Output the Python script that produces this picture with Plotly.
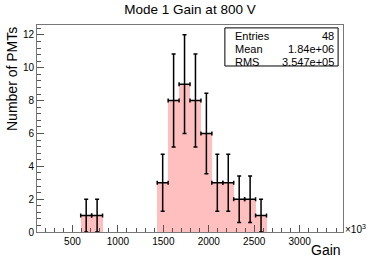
import plotly.graph_objects as go
import math

# histogram definition (x in units of 10^3)
x_min = 110.0
x_max = 3477.0
n_bins = 28
bin_index = [4, 5, 11, 12, 13, 14, 15, 16, 17, 18, 19, 20]
counts = [1, 1, 3, 8, 9, 8, 6, 3, 3, 2, 2, 1]
y_max = 12.6

stats_labels = ["Entries", "Mean", "RMS"]
stats_values = ["48", "1.84e+06", "3.547e+05"]

bw = (x_max - x_min) / n_bins
centers = [x_min + bw * (k + 0.5) for k in bin_index]
errs = [math.sqrt(c) for c in counts]

fig = go.Figure()
fig.add_trace(go.Bar(
    x=centers, y=counts, width=[bw] * len(centers),
    marker=dict(color="white", line=dict(width=0),
                pattern=dict(shape=".", fgcolor="rgb(255,110,110)", bgcolor="white",
                             size=2, solidity=0.5, fillmode="replace")),
    showlegend=False, hoverinfo="skip"))
fig.add_trace(go.Scatter(
    x=centers, y=counts, mode="markers",
    marker=dict(size=1, color="black"),
    error_x=dict(type="data", array=[bw / 2] * len(centers), color="black", thickness=1.5, width=2),
    error_y=dict(type="data", array=errs, color="black", thickness=1.5, width=2),
    showlegend=False, hoverinfo="skip"))

axis_common = dict(showline=True, linecolor="#777", linewidth=1, mirror=True,
                   ticks="inside", tickcolor="#555", showgrid=False, zeroline=False,
                   tickfont=dict(family="Liberation Sans, Arial", size=10, color="black"))
fig.update_xaxes(range=[x_min, x_max], dtick=500, tick0=0, ticklen=7,
                 minor=dict(dtick=100, tick0=0, ticks="inside", ticklen=4, tickcolor="#555"),
                 **axis_common)
fig.update_yaxes(range=[0, y_max], dtick=2, ticklen=7,
                 minor=dict(dtick=0.4, tick0=0, ticks="inside", ticklen=4, tickcolor="#555"),
                 **axis_common)

font = "Liberation Sans, Arial"
ann = []
ann.append(dict(text="Number of PMTs", textangle=-90, xref="paper", yref="paper", x=0, y=1,
                xanchor="center", yanchor="top", xshift=-25, showarrow=False,
                font=dict(family=font, size=14, color="black")))
ann.append(dict(text="Gain", xref="paper", yref="paper", x=1, y=0, xanchor="right", yanchor="middle",
                yshift=-18, showarrow=False, font=dict(family=font, size=14, color="black")))
ann.append(dict(text="×10<sup>3</sup>", xref="paper", yref="paper", x=1, y=0, xanchor="left",
                yanchor="middle", xshift=0, yshift=3, showarrow=False,
                font=dict(family=font, size=10, color="black")))
row_y = [0.947, 0.885, 0.821]
for lab, val, yy in zip(stats_labels, stats_values, row_y):
    ann.append(dict(text=lab, xref="paper", yref="paper", x=0.641, y=yy, xanchor="left",
                    yanchor="middle", showarrow=False, font=dict(family=font, size=11, color="black")))
    ann.append(dict(text=val, xref="paper", yref="paper", x=0.977, y=yy, xanchor="right",
                    yanchor="middle", showarrow=False, font=dict(family=font, size=11, color="black")))

fig.update_layout(
    width=381, height=259,
    margin=dict(l=37, r=38, t=25, b=27),
    paper_bgcolor="white", plot_bgcolor="white",
    bargap=0,
    title=dict(text="Mode 1 Gain at 800 V", x=0.5, xref="paper", y=1, yref="container",
               yanchor="top", pad=dict(t=5), font=dict(family=font, size=13.5, color="black")),
    shapes=[dict(type="rect", xref="paper", yref="paper", x0=0.614, x1=0.984, y0=0.802, y1=0.986,
                 line=dict(color="black", width=1), fillcolor="white", layer="above")],
    annotations=ann,
)
fig.write_html("out.html", config={"displayModeBar": False},
               post_script="document.body.style.margin='0';document.body.style.overflow='hidden';")
